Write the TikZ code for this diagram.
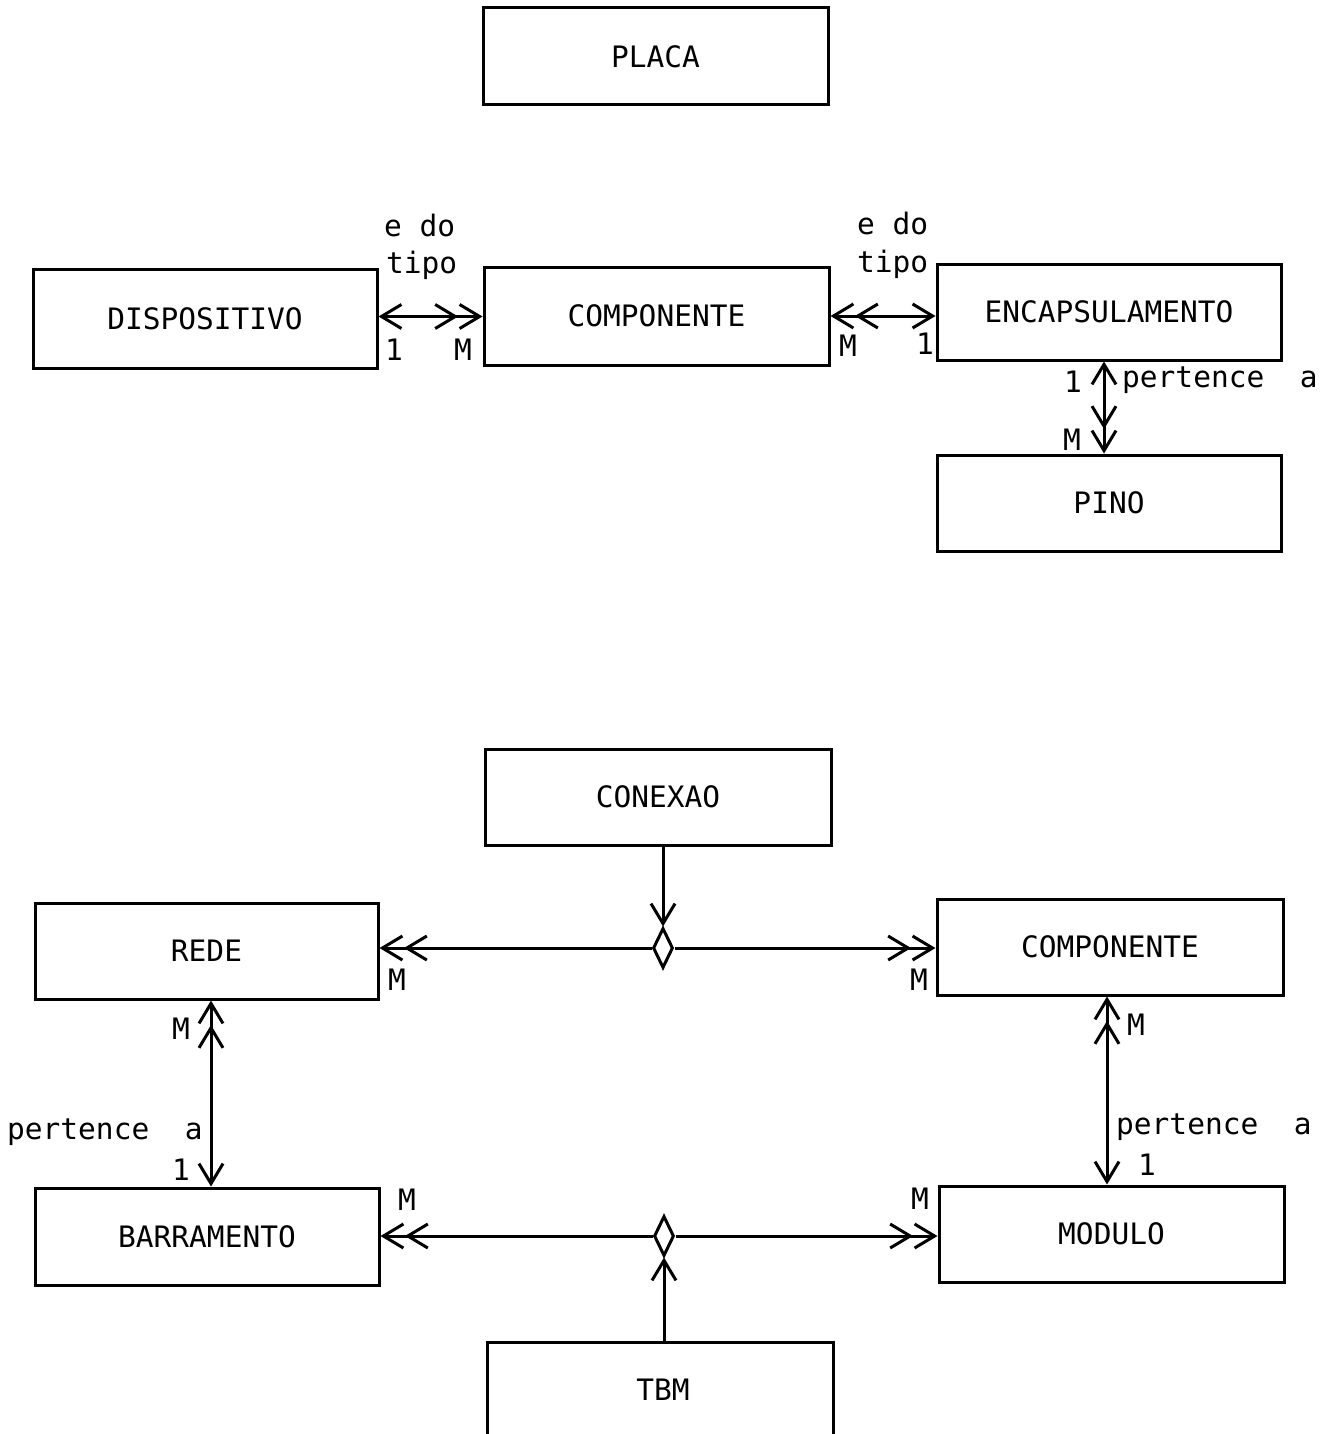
\documentclass[tikz,border=0pt]{standalone}
\usepackage{fontspec}
\setmonofont{DejaVu Sans Mono}
\usetikzlibrary{arrows.meta,shapes.geometric}
\tikzset{
  one/.tip={Straight Barb[length=20pt,width=24pt]},
  many/.tip={Straight Barb[length=20pt,width=24pt]Straight Barb[length=20pt,width=24pt]},
  box/.style={draw, line width=3pt, minimum width=345pt, minimum height=97pt, inner sep=0pt,
    font=\fontsize{29.5}{32}\selectfont\ttfamily},
  conn/.style={line width=3pt},
  lab/.style={inner sep=0pt, font=\fontsize{29.5}{32}\selectfont\ttfamily},
  rel/.style={diamond, draw, line width=3pt, minimum width=20pt, minimum height=40pt, inner sep=0pt},
}
\begin{document}
\begin{tikzpicture}[x=1pt,y=-1pt]
\useasboundingbox (0,0) rectangle (1324,1434);

% boxes
\node[box] (placa) at (655.5,56.5) {PLACA};
\node[box, minimum height=99pt, minimum width=344pt] (disp) at (205,318.5) {DISPOSITIVO};
\node[box, minimum height=98pt] (comp1) at (656.5,316) {COMPONENTE};
\node[box, minimum height=96pt, minimum width=344pt] (enc) at (1109,312) {ENCAPSULAMENTO};
\node[box, minimum height=96pt, minimum width=344pt] (pino) at (1109,503) {PINO};
\node[box, minimum height=96pt, minimum width=346pt] (conexao) at (658,797) {CONEXAO};
\node[box, minimum height=96pt, minimum width=343pt] (rede) at (206.5,951) {REDE};
\node[box, minimum height=96pt, minimum width=346pt] (comp2) at (1110,947) {COMPONENTE};
\node[box, minimum height=97pt, minimum width=344pt] (barr) at (207,1236.5) {BARRAMENTO};
\node[box, minimum height=96pt] (modulo) at (1111.5,1234) {MODULO};
\node[box, minimum height=100pt, minimum width=346pt] (tbm) at (660,1392) {};
\node[lab] (tbmlab) at (663,1390) {TBM};

% relationship diamonds
\node[rel] (d1) at (663,948) {};
\node[rel] (d2) at (664,1236) {};

% top connectors
\draw[conn, one-many] ([yshift=2pt]disp.east) -- ([yshift=2pt]disp.east -| comp1.west);
\draw[conn, many-one] (comp1.east) -- (comp1.east -| enc.west);
\draw[conn, one-many] ([xshift=-5pt]enc.south) -- ([xshift=-5pt]enc.south |- pino.north);

% bottom connectors
\draw[conn, -one] (conexao.south -| d1.north) -- (d1.north);
\draw[conn, -many] (d1.west) -- (d1.west -| rede.east);
\draw[conn, -many] (d1.east) -- (d1.east -| comp2.west);
\draw[conn, many-one] ([xshift=4.5pt]rede.south) -- ([xshift=4.5pt]rede.south |- barr.north);
\draw[conn, many-one] ([xshift=-3pt]comp2.south) -- ([xshift=-3pt]comp2.south |- modulo.north);
\draw[conn, -many] (d2.west) -- (d2.west -| barr.east);
\draw[conn, -many] (d2.east) -- (d2.east -| modulo.west);
\draw[conn, -one] (tbm.north -| d2.south) -- (d2.south);

% labels, top part
\node[lab, anchor=mid west] (edo1) at (384,234) {e do};
\node[lab, anchor=mid west] (tipo1) at (386,271) {tipo};
\node[lab] (c1a) at (394,350) {1};
\node[lab] (c1b) at (463,350) {M};
\node[lab, anchor=mid west] (edo2) at (857,232) {e do};
\node[lab, anchor=mid west] (tipo2) at (857,270) {tipo};
\node[lab] (c2a) at (848,346) {M};
\node[lab] (c2b) at (925,344) {1};
\node[lab] (c3a) at (1073,382) {1};
\node[lab, anchor=mid west] (pert1) at (1122,385) {pertence\ \ a};
\node[lab] (c3b) at (1072,440) {M};

% labels, bottom part
\node[lab] (c4a) at (397,980) {M};
\node[lab] (c4b) at (919,980) {M};
\node[lab] (c5a) at (181,1029) {M};
\node[lab, anchor=mid west] (pert2) at (7,1137) {pertence\ \ a};
\node[lab] (c5b) at (181,1170) {1};
\node[lab] (c6a) at (1136,1025) {M};
\node[lab, anchor=mid west] (pert3) at (1116,1132) {pertence\ \ a};
\node[lab] (c6b) at (1147,1165) {1};
\node[lab] (c7a) at (407,1200) {M};
\node[lab] (c7b) at (920,1199) {M};
\end{tikzpicture}
\end{document}
